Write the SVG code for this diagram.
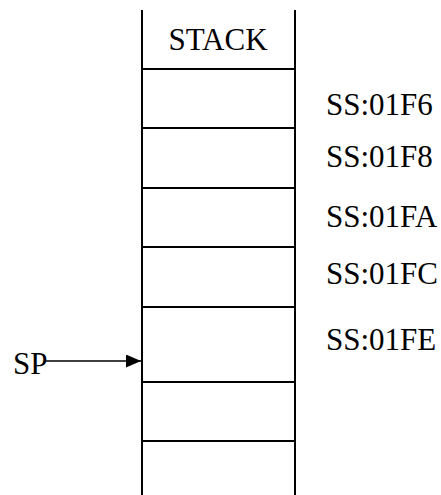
<svg xmlns="http://www.w3.org/2000/svg" width="441" height="495" viewBox="0 0 441 495">
<style>
.t{font-family:"Liberation Serif","Times New Roman",serif;font-size:31px;fill:#000}
.l{stroke:#000;stroke-width:2;fill:none}
.c{stroke:#000;stroke-width:1.5;fill:none}
</style>
<defs>
<marker id="ah" markerWidth="15" markerHeight="13" refX="15" refY="6.5" orient="auto" markerUnits="userSpaceOnUse">
<path d="M0,0 L15,6.5 L0,13 Z" fill="#000"/>
</marker>
</defs>
<rect width="441" height="495" fill="#fff"/>
<g id="stack">
<line class="l" x1="142" y1="10" x2="142" y2="495"/>
<line class="l" x1="295" y1="10" x2="295" y2="495"/>
<line class="l" x1="142" y1="69" x2="295" y2="69"/>
<line class="l" x1="142" y1="128" x2="295" y2="128"/>
<line class="l" x1="142" y1="188" x2="295" y2="188"/>
<line class="l" x1="142" y1="247" x2="295" y2="247"/>
<line class="l" x1="142" y1="307" x2="295" y2="307"/>
<line class="l" x1="142" y1="382" x2="295" y2="382"/>
<line class="l" x1="142" y1="441" x2="295" y2="441"/>
<text class="t" x="218" y="50" text-anchor="middle">STACK</text>
</g>
<g id="addr">
<text class="t" x="326" y="115">SS:01F6</text>
<text class="t" x="326" y="167">SS:01F8</text>
<text class="t" x="326" y="227">SS:01FA</text>
<text class="t" x="326" y="284">SS:01FC</text>
<text class="t" x="326" y="350">SS:01FE</text>
</g>
<g id="sp">
<text class="t" x="13" y="374">SP</text>
</g>
<g id="connectors">
<line class="c" x1="46" y1="361" x2="141" y2="361" marker-end="url(#ah)"/>
</g>
</svg>
